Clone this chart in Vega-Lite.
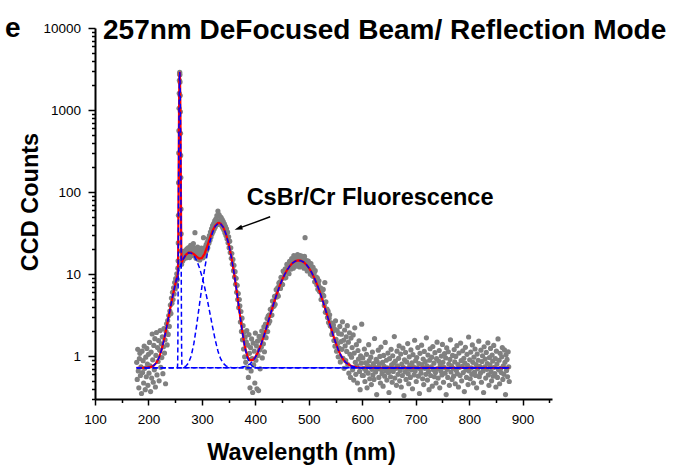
{
  "$schema": "https://vega.github.io/schema/vega-lite/v6.json",
  "width": 457,
  "height": 371,
  "autosize": {"type": "none"},
  "padding": {"left": 95, "top": 28, "right": 121, "bottom": 71},
  "background": "white",
  "config": {"view": {"stroke": null}, "font": "Liberation Sans"},
  "title": {
    "text": "257nm DeFocused Beam/ Reflection Mode",
    "font": "Liberation Sans", "fontSize": 28, "fontWeight": "bold", "color": "black",
    "anchor": "start", "frame": "group", "baseline": "alphabetic", "offset": 0, "dx": 8, "dy": 52
  },
  "datasets": {
    "spectrum": [
      {"nm":178,"counts":0.84},{"nm":179,"counts":0.52},{"nm":180,"counts":1.21},{"nm":181,"counts":0.66},{"nm":182,"counts":0.41},{"nm":183,"counts":0.93},{"nm":184,"counts":1.08},{"nm":185,"counts":0.58},{"nm":186,"counts":0.74},{"nm":187,"counts":0.35},
      {"nm":188,"counts":1.15},{"nm":189,"counts":0.63},{"nm":190,"counts":0.88},{"nm":191,"counts":0.47},{"nm":192,"counts":1.32},{"nm":193,"counts":0.71},{"nm":194,"counts":0.39},{"nm":195,"counts":0.97},{"nm":196,"counts":0.56},{"nm":197,"counts":1.24},
      {"nm":198,"counts":0.8},{"nm":199,"counts":0.44},{"nm":200,"counts":1.05},{"nm":201,"counts":0.62},{"nm":202,"counts":1.47},{"nm":203,"counts":0.76},{"nm":204,"counts":0.37},{"nm":205,"counts":1.12},{"nm":206,"counts":0.54},{"nm":207,"counts":1.86},
      {"nm":208,"counts":0.9},{"nm":209,"counts":0.48},{"nm":210,"counts":1.35},{"nm":211,"counts":0.68},{"nm":212,"counts":1.63},{"nm":213,"counts":0.42},{"nm":214,"counts":1.02},{"nm":215,"counts":1.94},{"nm":216,"counts":0.59},{"nm":217,"counts":1.27},
      {"nm":218,"counts":0.86},{"nm":219,"counts":1.55},{"nm":220,"counts":0.5},{"nm":221,"counts":1.18},{"nm":222,"counts":2.05},{"nm":223,"counts":0.73},{"nm":224,"counts":1.41},{"nm":225,"counts":0.96},{"nm":226,"counts":1.72},{"nm":227,"counts":0.61},
      {"nm":228,"counts":1.3},{"nm":229,"counts":2.16},{"nm":230,"counts":1.09},{"nm":231,"counts":1.58},{"nm":232,"counts":0.46},{"nm":233,"counts":1.99},{"nm":234,"counts":2.48},{"nm":235,"counts":1.37},{"nm":236,"counts":2.71},{"nm":237,"counts":1.84},
      {"nm":238,"counts":3.12},{"nm":239,"counts":2.3},{"nm":240,"counts":3.55},
      {"nm":241,"counts":4.2},{"nm":242,"counts":3.3},{"nm":243,"counts":5.1},{"nm":244,"counts":4.4},{"nm":245,"counts":6.0},{"nm":246,"counts":4.9},{"nm":247,"counts":6.8},{"nm":248,"counts":5.7},{"nm":249,"counts":7.9},{"nm":250,"counts":6.6},
      {"nm":251,"counts":8.8},{"nm":252,"counts":7.5},{"nm":253,"counts":10.1},{"nm":254,"counts":8.6},{"nm":255,"counts":11.8},
      {"nm":255.5,"counts":14.5},{"nm":255.8,"counts":24},{"nm":256.1,"counts":52},{"nm":256.4,"counts":130},{"nm":256.7,"counts":300},{"nm":257,"counts":560},{"nm":257.3,"counts":1050},
      {"nm":257.6,"counts":1600},{"nm":257.9,"counts":2300},{"nm":258.2,"counts":2750},{"nm":258.5,"counts":2880},{"nm":258.8,"counts":2700},{"nm":259.1,"counts":2200},{"nm":259.4,"counts":1500},
      {"nm":259.7,"counts":950},{"nm":260,"counts":520},{"nm":260.3,"counts":280},{"nm":260.6,"counts":150},{"nm":260.9,"counts":62},{"nm":261.2,"counts":31},{"nm":261.5,"counts":19},
      {"nm":262,"counts":13.2},{"nm":263,"counts":16.1},{"nm":264,"counts":14.4},{"nm":265,"counts":17.0},{"nm":266,"counts":15.3},{"nm":267,"counts":18.2},{"nm":268,"counts":16.0},{"nm":269,"counts":19.4},{"nm":270,"counts":17.5},
      {"nm":271,"counts":15.8},{"nm":272,"counts":20.3},{"nm":273,"counts":17.9},{"nm":274,"counts":16.2},{"nm":275,"counts":21.0},{"nm":276,"counts":18.6},{"nm":277,"counts":15.9},{"nm":278,"counts":19.8},{"nm":279,"counts":22.4},{"nm":280,"counts":17.6},
      {"nm":281,"counts":20.1},{"nm":282,"counts":16.8},{"nm":283,"counts":19.2},{"nm":284,"counts":23.5},{"nm":285,"counts":17.9},{"nm":286,"counts":20.6},{"nm":287,"counts":32.0},{"nm":288,"counts":18.1},{"nm":289,"counts":15.6},{"nm":290,"counts":19.0},
      {"nm":291,"counts":16.9},{"nm":292,"counts":21.3},{"nm":293,"counts":15.2},{"nm":294,"counts":17.7},{"nm":295,"counts":19.6},{"nm":296,"counts":14.9},{"nm":297,"counts":18.4},{"nm":298,"counts":16.3},{"nm":299,"counts":20.8},{"nm":300,"counts":17.2},
      {"nm":301,"counts":17.5},{"nm":302,"counts":15.8},{"nm":303,"counts":27.8},{"nm":304,"counts":19.1},{"nm":305,"counts":16.6},{"nm":306,"counts":21.2},{"nm":307,"counts":18.6},{"nm":308,"counts":22.9},{"nm":309,"counts":19.5},{"nm":310,"counts":24.6},
      {"nm":311,"counts":21.0},{"nm":312,"counts":27.1},{"nm":313,"counts":23.8},{"nm":314,"counts":29.4},{"nm":315,"counts":25.9},{"nm":316,"counts":32.5},{"nm":317,"counts":28.4},{"nm":318,"counts":35.6},{"nm":319,"counts":31.0},{"nm":320,"counts":38.9},
      {"nm":321,"counts":33.1},{"nm":322,"counts":41.2},{"nm":323,"counts":35.4},{"nm":324,"counts":44.5},{"nm":325,"counts":37.6},{"nm":326,"counts":46.8},{"nm":327,"counts":42.1},{"nm":328,"counts":51.5},{"nm":329,"counts":40.2},{"nm":330,"counts":58.6},
      {"nm":331,"counts":44.5},{"nm":332,"counts":53.0},{"nm":333,"counts":40.6},{"nm":334,"counts":50.2},{"nm":335,"counts":43.8},{"nm":336,"counts":48.7},{"nm":337,"counts":38.9},{"nm":338,"counts":46.3},{"nm":339,"counts":36.7},{"nm":340,"counts":43.5},
      {"nm":341,"counts":34.8},{"nm":342,"counts":41.0},{"nm":343,"counts":32.0},{"nm":344,"counts":38.1},{"nm":345,"counts":29.6},{"nm":346,"counts":35.6},{"nm":347,"counts":26.9},{"nm":348,"counts":32.4},{"nm":349,"counts":24.1},{"nm":350,"counts":28.5},
      {"nm":351,"counts":21.0},{"nm":352,"counts":25.2},{"nm":353,"counts":18.3},{"nm":354,"counts":20.9},{"nm":355,"counts":15.6},{"nm":356,"counts":17.8},{"nm":357,"counts":13.2},{"nm":358,"counts":15.1},{"nm":359,"counts":11.0},{"nm":360,"counts":12.8},
      {"nm":361,"counts":9.2},{"nm":362,"counts":10.7},{"nm":363,"counts":7.5},{"nm":364,"counts":8.9},{"nm":365,"counts":6.0},{"nm":366,"counts":7.3},{"nm":367,"counts":4.9},{"nm":368,"counts":5.8},{"nm":369,"counts":3.9},{"nm":370,"counts":4.9},
      {"nm":371,"counts":4.1},{"nm":372,"counts":2.6},{"nm":373,"counts":3.5},{"nm":374,"counts":2.0},{"nm":375,"counts":2.9},{"nm":376,"counts":1.58},{"nm":377,"counts":2.35},{"nm":378,"counts":1.22},{"nm":379,"counts":1.95},{"nm":380,"counts":0.98},
      {"nm":381,"counts":1.71},{"nm":382,"counts":0.84},{"nm":383,"counts":1.49},{"nm":384,"counts":2.05},{"nm":385,"counts":0.72},{"nm":386,"counts":1.36},{"nm":387,"counts":0.55},{"nm":388,"counts":1.83},{"nm":389,"counts":1.08},{"nm":390,"counts":0.41},
      {"nm":391,"counts":1.27},{"nm":392,"counts":0.66},{"nm":393,"counts":1.62},{"nm":394,"counts":0.93},{"nm":395,"counts":0.36},{"nm":396,"counts":1.44},{"nm":397,"counts":0.78},{"nm":398,"counts":1.15},{"nm":399,"counts":0.47},{"nm":400,"counts":1.91},
      {"nm":401,"counts":0.89},{"nm":402,"counts":1.33},{"nm":403,"counts":0.4},{"nm":404,"counts":1.52},{"nm":405,"counts":1.02},{"nm":406,"counts":0.38},{"nm":407,"counts":1.74},{"nm":408,"counts":1.19},{"nm":409,"counts":0.7},{"nm":410,"counts":1.61},
      {"nm":411,"counts":1.28},{"nm":412,"counts":2.02},{"nm":413,"counts":0.95},{"nm":414,"counts":1.79},{"nm":415,"counts":1.41},{"nm":416,"counts":2.28},{"nm":417,"counts":1.13},{"nm":418,"counts":1.96},{"nm":419,"counts":2.45},{"nm":420,"counts":1.68},
      {"nm":421,"counts":2.31},{"nm":422,"counts":2.87},{"nm":423,"counts":1.99},{"nm":424,"counts":3.08},{"nm":425,"counts":2.52},
      {"nm":426,"counts":3.18},{"nm":427,"counts":2.68},{"nm":428,"counts":3.72},{"nm":429,"counts":3.14},{"nm":430,"counts":3.73},{"nm":431,"counts":3.16},{"nm":432,"counts":4.7},{"nm":433,"counts":4.01},{"nm":434,"counts":4.68},{"nm":435,"counts":4.09},
      {"nm":436,"counts":5.37},{"nm":437,"counts":4.29},{"nm":438,"counts":5.33},{"nm":439,"counts":6.45},{"nm":440,"counts":5.25},{"nm":441,"counts":5.65},{"nm":442,"counts":6.84},{"nm":443,"counts":5.39},{"nm":444,"counts":7.79},{"nm":445,"counts":7.04},
      {"nm":446,"counts":8.04},{"nm":447,"counts":6.69},{"nm":448,"counts":9.15},{"nm":449,"counts":7.62},{"nm":450,"counts":8.9},{"nm":451,"counts":7.45},{"nm":452,"counts":10.9},{"nm":453,"counts":9.08},{"nm":454,"counts":10.4},{"nm":455,"counts":8.96},
      {"nm":456,"counts":11.6},{"nm":457,"counts":9.06},{"nm":458,"counts":11.0},{"nm":459,"counts":13.1},{"nm":460,"counts":10.5},{"nm":461,"counts":11.1},{"nm":462,"counts":13.1},{"nm":463,"counts":10.1},{"nm":464,"counts":14.3},{"nm":465,"counts":12.7},
      {"nm":466,"counts":14.2},{"nm":467,"counts":11.5},{"nm":468,"counts":15.4},{"nm":469,"counts":12.5},{"nm":470,"counts":14.4},{"nm":471,"counts":11.8},{"nm":472,"counts":16.8},{"nm":473,"counts":13.7},{"nm":474,"counts":15.4},{"nm":475,"counts":12.9},
      {"nm":476,"counts":16.4},{"nm":477,"counts":12.5},{"nm":478,"counts":14.9},{"nm":479,"counts":17.3},{"nm":480,"counts":13.5},{"nm":481,"counts":14.0},{"nm":482,"counts":16.1},{"nm":483,"counts":12.2},{"nm":484,"counts":16.8},{"nm":485,"counts":14.6},
      {"nm":486,"counts":16.0},{"nm":487,"counts":12.7},{"nm":488,"counts":16.5},{"nm":489,"counts":13.1},{"nm":490,"counts":14.7},{"nm":491,"counts":11.8},{"nm":492,"counts":16.4},{"nm":493,"counts":27.8},{"nm":494,"counts":14.4},{"nm":495,"counts":11.8},
      {"nm":496,"counts":14.6},{"nm":497,"counts":10.9},{"nm":498,"counts":12.7},{"nm":499,"counts":14.4},{"nm":500,"counts":11.0},{"nm":501,"counts":12.0},{"nm":502,"counts":13.5},{"nm":503,"counts":9.95},{"nm":504,"counts":13.4},{"nm":505,"counts":11.4},
      {"nm":506,"counts":12.2},{"nm":507,"counts":9.46},{"nm":508,"counts":12.1},{"nm":509,"counts":9.4},{"nm":510,"counts":10.3},{"nm":511,"counts":8.05},{"nm":512,"counts":11.0},{"nm":513,"counts":8.58},{"nm":514,"counts":9.2},{"nm":515,"counts":7.39},
      {"nm":516,"counts":8.92},{"nm":517,"counts":6.54},{"nm":518,"counts":7.46},{"nm":519,"counts":8.27},{"nm":520,"counts":6.18},{"nm":521,"counts":6.1},{"nm":522,"counts":6.78},{"nm":523,"counts":4.9},{"nm":524,"counts":6.5},{"nm":525,"counts":5.39},
      {"nm":526,"counts":5.64},{"nm":527,"counts":6.5},{"nm":528,"counts":5.42},{"nm":529,"counts":4.15},{"nm":530,"counts":7.9},{"nm":531,"counts":3.42},{"nm":532,"counts":4.6},{"nm":533,"counts":3.54},{"nm":534,"counts":3.74},{"nm":535,"counts":2.96},
      {"nm":536,"counts":3.53},{"nm":537,"counts":2.56},{"nm":538,"counts":2.9},{"nm":539,"counts":3.19},{"nm":540,"counts":2.36},{"nm":541,"counts":2.31},{"nm":542,"counts":2.55},{"nm":543,"counts":1.84},{"nm":544,"counts":2.43},{"nm":545,"counts":2.01},
      {"nm":546,"counts":2.4},{"nm":547,"counts":1.55},{"nm":548,"counts":2.15},{"nm":549,"counts":1.32},{"nm":550,"counts":2.7},{"nm":551,"counts":1.6},{"nm":552,"counts":1.15},{"nm":553,"counts":2.05},{"nm":554,"counts":1.42},{"nm":555,"counts":0.98},
      {"nm":556,"counts":1.88},{"nm":557,"counts":1.25},{"nm":558,"counts":2.3},{"nm":559,"counts":0.85},{"nm":560,"counts":1.5},
      {"nm":561,"counts":1.85},{"nm":562,"counts":1.21},{"nm":563,"counts":2.62},{"nm":564,"counts":0.94},{"nm":565,"counts":1.56},{"nm":566,"counts":0.71},{"nm":567,"counts":2.08},{"nm":568,"counts":1.33},{"nm":569,"counts":0.88},{"nm":570,"counts":1.72},
      {"nm":571,"counts":1.14},{"nm":572,"counts":2.35},{"nm":573,"counts":0.79},{"nm":574,"counts":1.48},{"nm":575,"counts":0.62},{"nm":576,"counts":1.92},{"nm":577,"counts":1.05},{"nm":578,"counts":0.55},{"nm":579,"counts":1.66},{"nm":580,"counts":0.97},
      {"nm":581,"counts":1.27},{"nm":582,"counts":0.68},{"nm":583,"counts":1.81},{"nm":584,"counts":0.51},{"nm":585,"counts":1.09},{"nm":586,"counts":2.21},{"nm":587,"counts":0.84},{"nm":588,"counts":0.6},{"nm":589,"counts":1.38},{"nm":590,"counts":0.76},
      {"nm":591,"counts":0.47},{"nm":592,"counts":1.17},{"nm":593,"counts":0.92},{"nm":594,"counts":1.54},{"nm":595,"counts":0.65},{"nm":596,"counts":0.39},{"nm":597,"counts":1.01},{"nm":598,"counts":0.82},{"nm":599,"counts":2.45},{"nm":600,"counts":0.58},
      {"nm":601,"counts":0.95},{"nm":602,"counts":0.58},{"nm":603,"counts":0.71},{"nm":604,"counts":1.22},{"nm":605,"counts":0.49},{"nm":606,"counts":0.83},{"nm":607,"counts":0.66},{"nm":608,"counts":1.05},{"nm":609,"counts":0.41},{"nm":610,"counts":0.77},
      {"nm":611,"counts":0.62},{"nm":612,"counts":1.38},{"nm":613,"counts":0.88},{"nm":614,"counts":0.53},{"nm":615,"counts":0.74},{"nm":616,"counts":0.97},{"nm":617,"counts":0.45},{"nm":618,"counts":0.69},{"nm":619,"counts":1.12},{"nm":620,"counts":0.59},
      {"nm":621,"counts":0.81},{"nm":622,"counts":0.52},{"nm":623,"counts":1.64},{"nm":624,"counts":0.73},{"nm":625,"counts":0.64},{"nm":626,"counts":0.91},{"nm":627,"counts":0.34},{"nm":628,"counts":0.86},{"nm":629,"counts":0.7},{"nm":630,"counts":1.18},
      {"nm":631,"counts":0.55},{"nm":632,"counts":0.79},{"nm":633,"counts":0.99},{"nm":634,"counts":0.47},{"nm":635,"counts":1.29},{"nm":636,"counts":0.68},{"nm":637,"counts":0.61},{"nm":638,"counts":0.84},{"nm":639,"counts":0.43},{"nm":640,"counts":1.02},
      {"nm":641,"counts":0.75},{"nm":642,"counts":0.57},{"nm":643,"counts":1.47},{"nm":644,"counts":0.66},{"nm":645,"counts":0.89},{"nm":646,"counts":0.51},{"nm":647,"counts":0.72},{"nm":648,"counts":1.09},{"nm":649,"counts":0.63},{"nm":650,"counts":0.36},
      {"nm":651,"counts":0.93},{"nm":652,"counts":0.69},{"nm":653,"counts":0.56},{"nm":654,"counts":1.21},{"nm":655,"counts":0.78},{"nm":656,"counts":0.48},{"nm":657,"counts":1.01},{"nm":658,"counts":0.65},{"nm":659,"counts":0.82},{"nm":660,"counts":1.73},
      {"nm":661,"counts":0.54},{"nm":662,"counts":0.87},{"nm":663,"counts":0.71},{"nm":664,"counts":0.44},{"nm":665,"counts":1.15},{"nm":666,"counts":0.76},{"nm":667,"counts":0.6},{"nm":668,"counts":0.94},{"nm":669,"counts":1.33},{"nm":670,"counts":0.5},
      {"nm":671,"counts":0.67},{"nm":672,"counts":1.06},{"nm":673,"counts":0.42},{"nm":674,"counts":0.8},{"nm":675,"counts":0.58},{"nm":676,"counts":1.25},{"nm":677,"counts":0.73},{"nm":678,"counts":0.33},{"nm":679,"counts":0.9},{"nm":680,"counts":0.64},
      {"nm":681,"counts":1.11},{"nm":682,"counts":0.52},{"nm":683,"counts":0.85},{"nm":684,"counts":0.7},{"nm":685,"counts":1.42},{"nm":686,"counts":0.61},{"nm":687,"counts":0.46},{"nm":688,"counts":0.98},{"nm":689,"counts":0.77},{"nm":690,"counts":0.55},
      {"nm":691,"counts":1.19},{"nm":692,"counts":0.68},{"nm":693,"counts":0.83},{"nm":694,"counts":0.4},{"nm":695,"counts":1.04},{"nm":696,"counts":0.74},{"nm":697,"counts":0.59},{"nm":698,"counts":1.56},{"nm":699,"counts":0.66},{"nm":700,"counts":0.88},
      {"nm":701,"counts":0.49},{"nm":702,"counts":0.96},{"nm":703,"counts":0.72},{"nm":704,"counts":1.27},{"nm":705,"counts":0.57},{"nm":706,"counts":0.81},{"nm":707,"counts":0.35},{"nm":708,"counts":1.08},{"nm":709,"counts":0.69},{"nm":710,"counts":0.62},
      {"nm":711,"counts":1.36},{"nm":712,"counts":0.79},{"nm":713,"counts":0.53},{"nm":714,"counts":0.92},{"nm":715,"counts":0.45},{"nm":716,"counts":1.14},{"nm":717,"counts":0.71},{"nm":718,"counts":0.86},{"nm":719,"counts":0.6},{"nm":720,"counts":1.67},
      {"nm":721,"counts":0.76},{"nm":722,"counts":0.51},{"nm":723,"counts":1.03},{"nm":724,"counts":0.65},{"nm":725,"counts":0.39},{"nm":726,"counts":0.89},{"nm":727,"counts":1.23},{"nm":728,"counts":0.58},{"nm":729,"counts":0.74},{"nm":730,"counts":0.97},
      {"nm":731,"counts":0.43},{"nm":732,"counts":1.31},{"nm":733,"counts":0.68},{"nm":734,"counts":0.82},{"nm":735,"counts":0.56},{"nm":736,"counts":1.1},{"nm":737,"counts":0.63},{"nm":738,"counts":0.47},{"nm":739,"counts":0.93},{"nm":740,"counts":1.48},
      {"nm":741,"counts":0.7},{"nm":742,"counts":0.54},{"nm":743,"counts":0.87},{"nm":744,"counts":1.17},{"nm":745,"counts":0.41},{"nm":746,"counts":0.78},{"nm":747,"counts":0.66},{"nm":748,"counts":1.0},{"nm":749,"counts":0.59},{"nm":750,"counts":1.39},
      {"nm":751,"counts":0.84},{"nm":752,"counts":0.48},{"nm":753,"counts":0.73},{"nm":754,"counts":1.07},{"nm":755,"counts":0.62},{"nm":756,"counts":0.95},{"nm":757,"counts":0.34},{"nm":758,"counts":1.26},{"nm":759,"counts":0.69},{"nm":760,"counts":0.55},
      {"nm":761,"counts":1.13},{"nm":762,"counts":0.8},{"nm":763,"counts":0.44},{"nm":764,"counts":0.91},{"nm":765,"counts":1.58},{"nm":766,"counts":0.64},{"nm":767,"counts":0.76},{"nm":768,"counts":0.52},{"nm":769,"counts":1.02},{"nm":770,"counts":0.71},
      {"nm":771,"counts":0.57},{"nm":772,"counts":1.2},{"nm":773,"counts":0.85},{"nm":774,"counts":0.46},{"nm":775,"counts":0.99},{"nm":776,"counts":0.67},{"nm":777,"counts":1.34},{"nm":778,"counts":0.61},{"nm":779,"counts":0.79},{"nm":780,"counts":0.42},
      {"nm":781,"counts":1.09},{"nm":782,"counts":0.73},{"nm":783,"counts":0.58},{"nm":784,"counts":1.44},{"nm":785,"counts":0.88},{"nm":786,"counts":0.5},{"nm":787,"counts":0.75},{"nm":788,"counts":1.16},{"nm":789,"counts":0.63},{"nm":790,"counts":0.94},
      {"nm":791,"counts":0.37},{"nm":792,"counts":0.82},{"nm":793,"counts":1.28},{"nm":794,"counts":0.68},{"nm":795,"counts":0.55},{"nm":796,"counts":1.05},{"nm":797,"counts":0.77},{"nm":798,"counts":0.45},{"nm":799,"counts":1.71},{"nm":800,"counts":0.66},
      {"nm":801,"counts":0.9},{"nm":802,"counts":0.53},{"nm":803,"counts":1.12},{"nm":804,"counts":0.72},{"nm":805,"counts":0.6},{"nm":806,"counts":1.37},{"nm":807,"counts":0.84},{"nm":808,"counts":0.47},{"nm":809,"counts":0.97},{"nm":810,"counts":0.64},
      {"nm":811,"counts":1.22},{"nm":812,"counts":0.58},{"nm":813,"counts":0.79},{"nm":814,"counts":0.41},{"nm":815,"counts":1.06},{"nm":816,"counts":0.7},{"nm":817,"counts":0.89},{"nm":818,"counts":1.52},{"nm":819,"counts":0.56},{"nm":820,"counts":0.75},
      {"nm":821,"counts":0.62},{"nm":822,"counts":1.18},{"nm":823,"counts":0.48},{"nm":824,"counts":0.86},{"nm":825,"counts":1.01},{"nm":826,"counts":0.66},{"nm":827,"counts":0.36},{"nm":828,"counts":1.3},{"nm":829,"counts":0.74},{"nm":830,"counts":0.92},
      {"nm":831,"counts":0.54},{"nm":832,"counts":1.11},{"nm":833,"counts":0.69},{"nm":834,"counts":0.81},{"nm":835,"counts":1.45},{"nm":836,"counts":0.59},{"nm":837,"counts":0.44},{"nm":838,"counts":0.96},{"nm":839,"counts":0.78},{"nm":840,"counts":1.24},
      {"nm":841,"counts":0.65},{"nm":842,"counts":0.5},{"nm":843,"counts":1.03},{"nm":844,"counts":0.87},{"nm":845,"counts":0.57},{"nm":846,"counts":1.35},{"nm":847,"counts":0.73},{"nm":848,"counts":0.61},{"nm":849,"counts":0.93},{"nm":850,"counts":0.42},
      {"nm":851,"counts":1.15},{"nm":852,"counts":0.8},{"nm":853,"counts":0.55},{"nm":854,"counts":1.62},{"nm":855,"counts":0.68},{"nm":856,"counts":0.89},{"nm":857,"counts":0.46},{"nm":858,"counts":1.08},{"nm":859,"counts":0.71},{"nm":860,"counts":0.63},
      {"nm":861,"counts":0.98},{"nm":862,"counts":1.27},{"nm":863,"counts":0.52},{"nm":864,"counts":0.76},{"nm":865,"counts":0.6},{"nm":866,"counts":1.19},{"nm":867,"counts":0.84},{"nm":868,"counts":0.34},{"nm":869,"counts":1.04},{"nm":870,"counts":0.67},
      {"nm":871,"counts":0.91},{"nm":872,"counts":0.56},{"nm":873,"counts":1.13},{"nm":874,"counts":0.74},{"nm":875,"counts":0.49}
    ],
    "fitCurves": [
      {"nm":178,"fit":0.72,"p1":0.72,"p2":0.72,"p3":0.72,"p4":0.72},
      {"nm":185,"fit":0.72,"p1":0.72,"p2":0.72,"p3":0.72,"p4":0.72},
      {"nm":190,"fit":0.721,"p1":0.72,"p2":0.721,"p3":0.72,"p4":0.72},
      {"nm":195,"fit":0.723,"p1":0.72,"p2":0.723,"p3":0.72,"p4":0.72},
      {"nm":200,"fit":0.727,"p1":0.72,"p2":0.727,"p3":0.72,"p4":0.72},
      {"nm":205,"fit":0.739,"p1":0.72,"p2":0.739,"p3":0.72,"p4":0.72},
      {"nm":210,"fit":0.768,"p1":0.72,"p2":0.768,"p3":0.72,"p4":0.72},
      {"nm":215,"fit":0.832,"p1":0.72,"p2":0.832,"p3":0.72,"p4":0.72},
      {"nm":220,"fit":0.964,"p1":0.72,"p2":0.964,"p3":0.72,"p4":0.72},
      {"nm":225,"fit":1.22,"p1":0.72,"p2":1.22,"p3":0.72,"p4":0.72},
      {"nm":230,"fit":1.68,"p1":0.72,"p2":1.68,"p3":0.72,"p4":0.72},
      {"nm":235,"fit":2.44,"p1":0.72,"p2":2.44,"p3":0.72,"p4":0.72},
      {"nm":240,"fit":3.61,"p1":0.72,"p2":3.61,"p3":0.72,"p4":0.72},
      {"nm":245,"fit":5.27,"p1":0.72,"p2":5.27,"p3":0.72,"p4":0.72},
      {"nm":250,"fit":7.43,"p1":0.72,"p2":7.43,"p3":0.72,"p4":0.72},
      {"nm":252,"fit":8.41,"p1":0.72,"p2":8.41,"p3":0.72,"p4":0.72},
      {"nm":254,"fit":9.45,"p1":0.72,"p2":9.45,"p3":0.72,"p4":0.72},
      {"nm":254.5,"fit":9.76,"p1":0.765,"p2":9.71,"p3":0.72,"p4":0.72},
      {"nm":254.75,"fit":10.02,"p1":0.89,"p2":9.85,"p3":0.72,"p4":0.72},
      {"nm":255,"fit":10.58,"p1":1.32,"p2":9.98,"p3":0.72,"p4":0.72},
      {"nm":255.25,"fit":12.06,"p1":2.66,"p2":10.12,"p3":0.72,"p4":0.72},
      {"nm":255.5,"fit":15.97,"p1":6.44,"p2":10.25,"p3":0.72,"p4":0.72},
      {"nm":255.75,"fit":25.88,"p1":16.2,"p2":10.38,"p3":0.72,"p4":0.72},
      {"nm":256,"fit":48.9,"p1":39.1,"p2":10.52,"p3":0.72,"p4":0.72},
      {"nm":256.25,"fit":98.1,"p1":88.1,"p2":10.65,"p3":0.72,"p4":0.72},
      {"nm":256.5,"fit":192.8,"p1":182.7,"p2":10.79,"p3":0.72,"p4":0.72},
      {"nm":256.75,"fit":358.9,"p1":348.7,"p2":10.93,"p3":0.72,"p4":0.72},
      {"nm":257,"fit":622.1,"p1":611.7,"p2":11.06,"p3":0.72,"p4":0.72},
      {"nm":257.25,"fit":995.2,"p1":984.7,"p2":11.2,"p3":0.72,"p4":0.72},
      {"nm":257.5,"fit":1462,"p1":1452,"p2":11.33,"p3":0.72,"p4":0.72},
      {"nm":257.75,"fit":1977,"p1":1966,"p2":11.47,"p3":0.72,"p4":0.72},
      {"nm":258,"fit":2451,"p1":2440,"p2":11.61,"p3":0.72,"p4":0.72},
      {"nm":258.25,"fit":2789,"p1":2778,"p2":11.74,"p3":0.72,"p4":0.72},
      {"nm":258.5,"fit":2912,"p1":2901,"p2":11.88,"p3":0.72,"p4":0.72},
      {"nm":258.75,"fit":2789,"p1":2778,"p2":12.01,"p3":0.72,"p4":0.72},
      {"nm":259,"fit":2451,"p1":2440,"p2":12.15,"p3":0.72,"p4":0.72},
      {"nm":259.25,"fit":1977,"p1":1966,"p2":12.28,"p3":0.72,"p4":0.72},
      {"nm":259.5,"fit":1463,"p1":1452,"p2":12.42,"p3":0.72,"p4":0.72},
      {"nm":259.75,"fit":997,"p1":984.7,"p2":12.55,"p3":0.72,"p4":0.72},
      {"nm":260,"fit":624,"p1":611.7,"p2":12.69,"p3":0.72,"p4":0.72},
      {"nm":260.25,"fit":361,"p1":348.7,"p2":12.82,"p3":0.72,"p4":0.72},
      {"nm":260.5,"fit":195,"p1":182.7,"p2":12.95,"p3":0.72,"p4":0.72},
      {"nm":260.75,"fit":100.5,"p1":88.1,"p2":13.09,"p3":0.72,"p4":0.72},
      {"nm":261,"fit":51.6,"p1":39.1,"p2":13.22,"p3":0.72,"p4":0.72},
      {"nm":261.25,"fit":28.85,"p1":16.2,"p2":13.35,"p3":0.72,"p4":0.72},
      {"nm":261.5,"fit":19.2,"p1":6.44,"p2":13.48,"p3":0.72,"p4":0.72},
      {"nm":261.75,"fit":15.55,"p1":2.66,"p2":13.61,"p3":0.72,"p4":0.72},
      {"nm":262,"fit":14.35,"p1":1.32,"p2":13.74,"p3":0.725,"p4":0.72},
      {"nm":262.5,"fit":14.04,"p1":0.765,"p2":13.99,"p3":0.726,"p4":0.72},
      {"nm":265,"fit":15.21,"p1":0.72,"p2":15.2,"p3":0.731,"p4":0.72},
      {"nm":270,"fit":17.17,"p1":0.72,"p2":17.13,"p3":0.755,"p4":0.72},
      {"nm":275,"fit":18.24,"p1":0.72,"p2":18.13,"p3":0.825,"p4":0.72},
      {"nm":280,"fit":18.3,"p1":0.72,"p2":18.01,"p3":1.006,"p4":0.72},
      {"nm":285,"fit":17.52,"p1":0.72,"p2":16.81,"p3":1.429,"p4":0.72},
      {"nm":290,"fit":16.34,"p1":0.72,"p2":14.73,"p3":2.33,"p4":0.72},
      {"nm":295,"fit":15.47,"p1":0.72,"p2":12.15,"p3":4.04,"p4":0.72},
      {"nm":300,"fit":15.7,"p1":0.72,"p2":9.45,"p3":6.97,"p4":0.72},
      {"nm":305,"fit":17.71,"p1":0.72,"p2":6.96,"p3":11.47,"p4":0.72},
      {"nm":310,"fit":21.76,"p1":0.72,"p2":4.9,"p3":17.58,"p4":0.72},
      {"nm":315,"fit":27.46,"p1":0.72,"p2":3.34,"p3":24.84,"p4":0.72},
      {"nm":320,"fit":33.73,"p1":0.72,"p2":2.26,"p3":32.19,"p4":0.72},
      {"nm":325,"fit":39.04,"p1":0.72,"p2":1.566,"p3":38.19,"p4":0.72},
      {"nm":330,"fit":41.86,"p1":0.72,"p2":1.156,"p3":41.42,"p4":0.72},
      {"nm":332,"fit":42.05,"p1":0.72,"p2":1.048,"p3":41.72,"p4":0.72},
      {"nm":335,"fit":41.26,"p1":0.72,"p2":0.93,"p3":41.05,"p4":0.72},
      {"nm":340,"fit":37.27,"p1":0.72,"p2":0.815,"p3":37.17,"p4":0.72},
      {"nm":345,"fit":30.82,"p1":0.72,"p2":0.76,"p3":30.78,"p4":0.72},
      {"nm":350,"fit":23.36,"p1":0.72,"p2":0.736,"p3":23.34,"p4":0.72},
      {"nm":355,"fit":16.25,"p1":0.72,"p2":0.726,"p3":16.24,"p4":0.72},
      {"nm":360,"fit":10.44,"p1":0.72,"p2":0.722,"p3":10.44,"p4":0.722},
      {"nm":365,"fit":6.27,"p1":0.72,"p2":0.72,"p3":6.27,"p4":0.723},
      {"nm":370,"fit":3.62,"p1":0.72,"p2":0.72,"p3":3.61,"p4":0.727},
      {"nm":375,"fit":2.11,"p1":0.72,"p2":0.72,"p3":2.09,"p4":0.735},
      {"nm":380,"fit":1.34,"p1":0.72,"p2":0.72,"p3":1.316,"p4":0.746},
      {"nm":385,"fit":1.0,"p1":0.72,"p2":0.72,"p3":0.956,"p4":0.768},
      {"nm":390,"fit":0.89,"p1":0.72,"p2":0.72,"p3":0.805,"p4":0.806},
      {"nm":395,"fit":0.9,"p1":0.72,"p2":0.72,"p3":0.748,"p4":0.868},
      {"nm":400,"fit":0.975,"p1":0.72,"p2":0.72,"p3":0.728,"p4":0.967},
      {"nm":405,"fit":1.12,"p1":0.72,"p2":0.72,"p3":0.722,"p4":1.12},
      {"nm":410,"fit":1.35,"p1":0.72,"p2":0.72,"p3":0.72,"p4":1.349},
      {"nm":415,"fit":1.68,"p1":0.72,"p2":0.72,"p3":0.72,"p4":1.68},
      {"nm":420,"fit":2.14,"p1":0.72,"p2":0.72,"p3":0.72,"p4":2.137},
      {"nm":425,"fit":2.75,"p1":0.72,"p2":0.72,"p3":0.72,"p4":2.75},
      {"nm":430,"fit":3.54,"p1":0.72,"p2":0.72,"p3":0.72,"p4":3.54},
      {"nm":435,"fit":4.52,"p1":0.72,"p2":0.72,"p3":0.72,"p4":4.52},
      {"nm":440,"fit":5.69,"p1":0.72,"p2":0.72,"p3":0.72,"p4":5.69},
      {"nm":445,"fit":7.02,"p1":0.72,"p2":0.72,"p3":0.72,"p4":7.02},
      {"nm":450,"fit":8.47,"p1":0.72,"p2":0.72,"p3":0.72,"p4":8.47},
      {"nm":455,"fit":9.95,"p1":0.72,"p2":0.72,"p3":0.72,"p4":9.95},
      {"nm":460,"fit":11.39,"p1":0.72,"p2":0.72,"p3":0.72,"p4":11.39},
      {"nm":465,"fit":12.68,"p1":0.72,"p2":0.72,"p3":0.72,"p4":12.68},
      {"nm":470,"fit":13.71,"p1":0.72,"p2":0.72,"p3":0.72,"p4":13.71},
      {"nm":475,"fit":14.41,"p1":0.72,"p2":0.72,"p3":0.72,"p4":14.41},
      {"nm":480,"fit":14.71,"p1":0.72,"p2":0.72,"p3":0.72,"p4":14.71},
      {"nm":485,"fit":14.58,"p1":0.72,"p2":0.72,"p3":0.72,"p4":14.58},
      {"nm":490,"fit":14.04,"p1":0.72,"p2":0.72,"p3":0.72,"p4":14.04},
      {"nm":495,"fit":13.13,"p1":0.72,"p2":0.72,"p3":0.72,"p4":13.13},
      {"nm":500,"fit":11.93,"p1":0.72,"p2":0.72,"p3":0.72,"p4":11.93},
      {"nm":505,"fit":10.54,"p1":0.72,"p2":0.72,"p3":0.72,"p4":10.54},
      {"nm":510,"fit":9.06,"p1":0.72,"p2":0.72,"p3":0.72,"p4":9.06},
      {"nm":515,"fit":7.59,"p1":0.72,"p2":0.72,"p3":0.72,"p4":7.59},
      {"nm":520,"fit":6.21,"p1":0.72,"p2":0.72,"p3":0.72,"p4":6.21},
      {"nm":525,"fit":4.97,"p1":0.72,"p2":0.72,"p3":0.72,"p4":4.97},
      {"nm":530,"fit":3.91,"p1":0.72,"p2":0.72,"p3":0.72,"p4":3.91},
      {"nm":535,"fit":3.05,"p1":0.72,"p2":0.72,"p3":0.72,"p4":3.05},
      {"nm":540,"fit":2.36,"p1":0.72,"p2":0.72,"p3":0.72,"p4":2.36},
      {"nm":545,"fit":1.85,"p1":0.72,"p2":0.72,"p3":0.72,"p4":1.85},
      {"nm":550,"fit":1.47,"p1":0.72,"p2":0.72,"p3":0.72,"p4":1.47},
      {"nm":555,"fit":1.2,"p1":0.72,"p2":0.72,"p3":0.72,"p4":1.2},
      {"nm":560,"fit":1.02,"p1":0.72,"p2":0.72,"p3":0.72,"p4":1.02},
      {"nm":565,"fit":0.9,"p1":0.72,"p2":0.72,"p3":0.72,"p4":0.9},
      {"nm":570,"fit":0.827,"p1":0.72,"p2":0.72,"p3":0.72,"p4":0.827},
      {"nm":580,"fit":0.754,"p1":0.72,"p2":0.72,"p3":0.72,"p4":0.754},
      {"nm":590,"fit":0.729,"p1":0.72,"p2":0.72,"p3":0.72,"p4":0.729},
      {"nm":600,"fit":0.722,"p1":0.72,"p2":0.72,"p3":0.72,"p4":0.722},
      {"nm":650,"fit":0.72,"p1":0.72,"p2":0.72,"p3":0.72,"p4":0.72},
      {"nm":700,"fit":0.72,"p1":0.72,"p2":0.72,"p3":0.72,"p4":0.72},
      {"nm":750,"fit":0.72,"p1":0.72,"p2":0.72,"p3":0.72,"p4":0.72},
      {"nm":800,"fit":0.72,"p1":0.72,"p2":0.72,"p3":0.72,"p4":0.72},
      {"nm":850,"fit":0.72,"p1":0.72,"p2":0.72,"p3":0.72,"p4":0.72},
      {"nm":875,"fit":0.72,"p1":0.72,"p2":0.72,"p3":0.72,"p4":0.72}
    ]
  },
  "encoding": {
    "x": {
      "field": "nm", "type": "quantitative",
      "scale": {"domain": [100, 955], "nice": false, "zero": false},
      "axis": {
        "title": "Wavelength (nm)",
        "values": [100, 150, 200, 250, 300, 350, 400, 450, 500, 550, 600, 650, 700, 750, 800, 850, 900, 950],
        "format": "d",
        "labelExpr": "datum.value % 100 === 0 ? datum.label : ''",
        "tickSize": {"condition": {"test": "datum.value % 100 === 0", "value": 6}, "value": 3.5},
        "tickColor": "black", "tickWidth": 1.5,
        "domainColor": "black", "domainWidth": 2,
        "grid": false, "labelFlush": false, "labelOverlap": false,
        "labelFont": "Liberation Sans", "labelFontSize": 13.5, "labelColor": "black", "labelPadding": 7,
        "titleFont": "Liberation Sans", "titleFontSize": 23.5, "titleFontWeight": "bold", "titleColor": "black",
        "titleX": 206, "titleY": 60, "titleAlign": "center", "titleBaseline": "alphabetic"
      }
    },
    "y": {
      "field": "counts", "type": "quantitative",
      "scale": {"type": "log", "domain": [0.3, 10000], "nice": false},
      "axis": {
        "title": "CCD Counts",
        "values": [0.3, 0.4, 0.5, 0.6, 0.7, 0.8, 0.9, 1, 2, 3, 4, 5, 6, 7, 8, 9, 10, 20, 30, 40, 50, 60, 70, 80, 90, 100, 200, 300, 400, 500, 600, 700, 800, 900, 1000, 2000, 3000, 4000, 5000, 6000, 7000, 8000, 9000, 10000],
        "format": "d",
        "labelExpr": "indexof([1, 10, 100, 1000, 10000], datum.value) >= 0 ? datum.label : ''",
        "tickSize": {"condition": {"test": "indexof([1, 10, 100, 1000, 10000], datum.value) >= 0", "value": 7}, "value": 3.5},
        "tickColor": "black", "tickWidth": 1.5,
        "domainColor": "black", "domainWidth": 2,
        "grid": false, "labelFlush": false, "labelOverlap": false,
        "labelFont": "Liberation Sans", "labelFontSize": 13.5, "labelColor": "black", "labelPadding": 7.5,
        "titleFont": "Liberation Sans", "titleFontSize": 23.5, "titleFontWeight": "bold", "titleColor": "black",
        "titleX": -58, "titleY": 173.5, "titleAngle": -90, "titleAlign": "center", "titleBaseline": "alphabetic"
      }
    }
  },
  "layer": [
    {
      "data": {"name": "spectrum"},
      "mark": {"type": "circle", "size": 27, "color": "#808080", "opacity": 1}
    },
    {
      "data": {"name": "fitCurves"},
      "transform": [{"fold": ["fit"], "as": ["curve", "counts"]}],
      "mark": {"type": "line", "color": "#ff0000", "strokeWidth": 2.2}
    },
    {
      "data": {"name": "fitCurves"},
      "transform": [{"fold": ["p1", "p2", "p3", "p4"], "as": ["component", "counts"]}],
      "mark": {"type": "line", "color": "#0000ff", "strokeWidth": 1.5, "strokeDash": [5, 3]},
      "encoding": {"detail": {"field": "component"}}
    },
    {
      "data": {"values": [{"nm": 427.7, "counts": 49.9, "nm_end": 372, "counts_end": 36.8}]},
      "mark": {"type": "rule", "color": "black", "strokeWidth": 1.5},
      "encoding": {"x2": {"field": "nm_end"}, "y2": {"field": "counts_end"}}
    },
    {
      "data": {"values": [{"nm": 361.2, "counts": 34.6}]},
      "mark": {"type": "point", "shape": "M0,0L-0.6,2L0.6,2Z", "size": 64, "filled": true, "color": "black", "opacity": 1, "angle": 250}
    },
    {
      "data": {"values": [{"nm": 383.7, "counts": 68.8, "label": "CsBr/Cr Fluorescence"}]},
      "mark": {"type": "text", "font": "Liberation Sans", "fontSize": 23.5, "fontWeight": "bold", "color": "black", "align": "left", "baseline": "alphabetic"},
      "encoding": {"text": {"field": "label"}}
    },
    {
      "data": {"values": [{"nm": -53.6, "counts": 7706, "label": "e"}]},
      "mark": {"type": "text", "font": "Liberation Sans", "fontSize": 28, "fontWeight": "bold", "color": "black", "align": "center", "baseline": "alphabetic"},
      "encoding": {"text": {"field": "label"}}
    }
  ]
}
